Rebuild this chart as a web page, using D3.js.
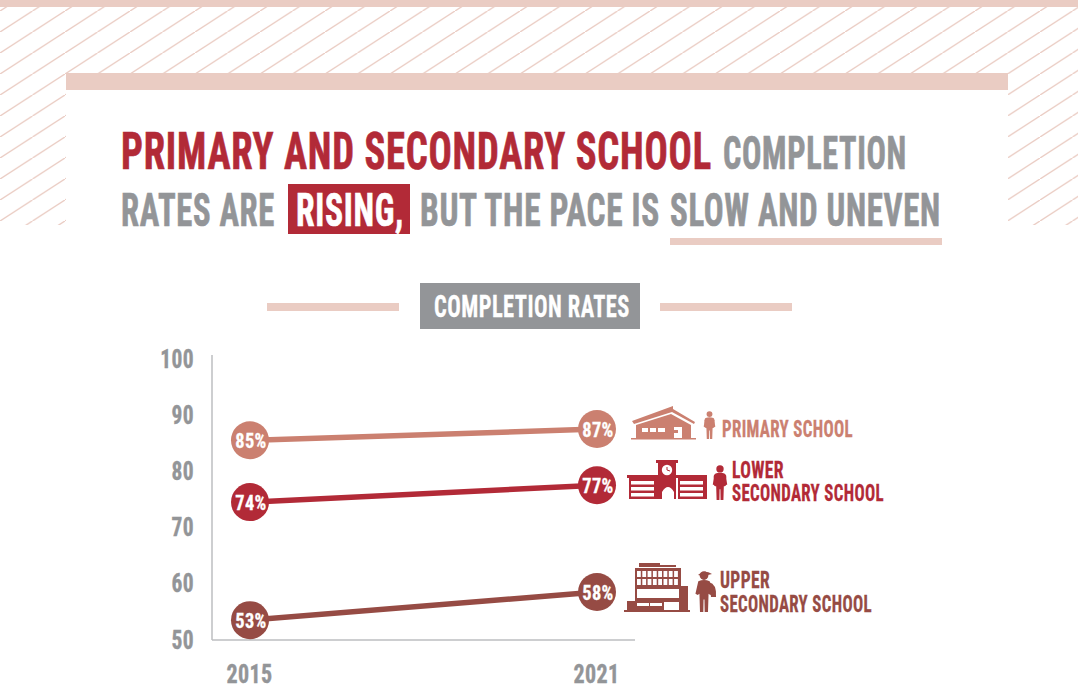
<!DOCTYPE html>
<html>
<head>
<meta charset="utf-8">
<script src="https://cdn.jsdelivr.net/npm/d3@7"></script>
<style>
  html, body { margin: 0; padding: 0; background: #fff; }
  svg { display: block; }
  text { font-family: "Roboto Condensed", Roboto, sans-serif; font-weight: 700; letter-spacing: 0.02em; }
</style>
</head>
<body>
<svg id="chart"></svg>
<script>
// chart data
var years = ["2015", "2021"];
var yTicks = [50, 60, 70, 80, 90, 100];
var primary = [85, 87];
var lowerSecondary = [74, 77];
var upperSecondary = [53, 58];

var red = "#b22a37", grey = "#939598", band = "#eaccc3",
  light = "#cb8070", dark = "#964b44", axisGrey = "#bcbec0";

var svg = d3.select("#chart").attr("width", 1078).attr("height", 700);
var defs = svg.append("defs");

// hatched background behind the title panel
var hatch = defs.append("pattern")
  .attr("id", "hatch")
  .attr("patternUnits", "userSpaceOnUse")
  .attr("width", 32.5)
  .attr("height", 21)
  .attr("patternTransform", "translate(0,11)");
hatch.append("path")
  .attr("d", "M-6.5,25.2 L39,-4.2")
  .attr("stroke", band)
  .attr("stroke-width", 1.4)
  .attr("fill", "none");

svg.append("rect").attr("x", 0).attr("y", 7).attr("width", 1078).attr("height", 218).attr("fill", "url(#hatch)");
svg.append("rect").attr("x", 0).attr("y", 0).attr("width", 1078).attr("height", 7).attr("fill", band);
svg.append("rect").attr("x", 66).attr("y", 73).attr("width", 942).attr("height", 240).attr("fill", "#fff");
svg.append("rect").attr("x", 66).attr("y", 73).attr("width", 942).attr("height", 17).attr("fill", band);

// squeezes a label to the width it has in the picture
function label(g, str, x, y, w, size, color) {
  var t = g.append("text")
    .attr("font-size", size)
    .attr("fill", color)
    .attr("stroke", color)
    .attr("stroke-width", size > 40 ? 0.7 : 0.3)
    .text(str);
  var sx = w / t.node().getComputedTextLength();
  t.attr("transform", "translate(" + x + "," + y + ") scale(" + sx + ",1)");
  return t;
}

// headline
var head = svg.append("g");
label(head, "PRIMARY AND SECONDARY SCHOOL", 121, 169, 591, 52, red);
label(head, "COMPLETION", 723, 169, 184, 47, grey);
label(head, "RATES ARE", 121, 226, 154, 47, grey);
head.append("rect").attr("x", 288).attr("y", 184).attr("width", 122).attr("height", 50).attr("fill", red);
label(head, "RISING,", 296, 226, 108, 47, "#fff");
label(head, "BUT THE PACE IS", 420, 226, 240, 47, grey);
label(head, "SLOW AND UNEVEN", 670, 226, 271, 47, grey);
head.append("rect").attr("x", 670).attr("y", 238).attr("width", 272).attr("height", 7).attr("fill", band);

// sub heading
svg.append("rect").attr("x", 267).attr("y", 303).attr("width", 132).attr("height", 8).attr("fill", band);
svg.append("rect").attr("x", 660).attr("y", 303).attr("width", 132).attr("height", 8).attr("fill", band);
svg.append("rect").attr("x", 420).attr("y", 283).attr("width", 220).attr("height", 46).attr("fill", grey);
label(svg, "COMPLETION RATES", 434, 317, 196, 32, "#fff");

// scales
var x = d3.scalePoint().domain(years).range([250, 597]);
var y = d3.scaleLinear().domain([50, 100]).range([637, 356]);

// axes, the tick labels come from d3.axisLeft / d3.axisBottom
var yAxis = svg.append("g")
  .attr("transform", "translate(212,0)")
  .call(d3.axisLeft(y).tickValues(yTicks).tickSize(0));
yAxis.select(".domain").remove();
yAxis.selectAll("text")
  .attr("x", 0)
  .attr("dy", 0)
  .attr("font-size", 25)
  .attr("fill", grey)
  .attr("stroke", grey)
  .attr("stroke-width", 0.4)
  .attr("transform", "translate(-18,11) scale(0.86,1)");

svg.append("line").attr("x1", 212).attr("x2", 212).attr("y1", 355).attr("y2", 640)
  .attr("stroke", axisGrey).attr("stroke-width", 1.5);
svg.append("line").attr("x1", 212).attr("x2", 635).attr("y1", 640).attr("y2", 640)
  .attr("stroke", axisGrey).attr("stroke-width", 1.5);

var xAxis = svg.append("g")
  .attr("transform", "translate(0,640)")
  .call(d3.axisBottom(x).tickSize(0));
xAxis.select(".domain").remove();
xAxis.selectAll("text")
  .attr("y", 0)
  .attr("dy", 0)
  .attr("font-size", 25)
  .attr("fill", grey)
  .attr("stroke", grey)
  .attr("stroke-width", 0.4)
  .attr("transform", "translate(-1,43) scale(0.88,1)");

// lines and dots
var lineGen = d3.line().x(function (d, i) { return x(years[i]); }).y(function (d) { return y(d); });

function drawSeries(values, color) {
  var g = svg.append("g");
  g.append("path")
    .attr("d", lineGen(values))
    .attr("fill", "none")
    .attr("stroke", color)
    .attr("stroke-width", 5.5);
  var dots = g.selectAll("g.dot")
    .data(values)
    .enter()
    .append("g")
    .attr("class", "dot")
    .attr("transform", function (d, i) { return "translate(" + x(years[i]) + "," + y(d) + ")"; });
  dots.append("circle").attr("r", 19).attr("fill", color);
  dots.append("text")
    .attr("text-anchor", "middle")
    .attr("font-size", 20)
    .attr("fill", "#fff")
    .attr("stroke", "#fff")
    .attr("stroke-width", 0.3)
    .attr("transform", "translate(1,7.5) scale(0.92,1)")
    .text(function (d) { return d + "%"; });
}
drawSeries(primary, light);
drawSeries(lowerSecondary, red);
drawSeries(upperSecondary, dark);

// pictograms, small shapes in their own local coordinates
function person(g, px, py, s, color) {
  var p = g.append("g").attr("transform", "translate(" + px + "," + py + ") scale(" + s + ")").attr("fill", color);
  p.append("circle").attr("cx", 0).attr("cy", 4).attr("r", 3.8);
  p.append("path").attr("d", "M-5,9 Q0,7 5,9 L7.5,20 L5.5,21 L4,20 L3.5,36 L0.6,36 L0.4,25 L-0.4,25 L-0.6,36 L-3.5,36 L-4,20 L-5.5,21 L-7.5,20 Z");
}

// backpack straps seen from the front
function backpack(g, px, py, s, color) {
  g.append("rect")
    .attr("x", px - 6.5 * s).attr("y", py + 9 * s)
    .attr("width", 13 * s).attr("height", 13 * s)
    .attr("rx", 3 * s)
    .attr("fill", color);
}

function schoolPrimary(g, color) {
  var s = g.append("g").attr("fill", color);
  s.append("path").attr("d", "M632,421 L673,406 L673,409 L695,422 L694,424 L672,412 L634,424 Z");
  s.append("path").attr("d", "M636,425 L671,414 L691,425 L691,438 L636,438 Z");
  s.append("rect").attr("x", 631).attr("y", 438).attr("width", 65).attr("height", 1.5);
  s.append("rect").attr("x", 642).attr("y", 428).attr("width", 6).attr("height", 4).attr("fill", "#fff");
  s.append("rect").attr("x", 650).attr("y", 428).attr("width", 6).attr("height", 4).attr("fill", "#fff");
  s.append("rect").attr("x", 658).attr("y", 428).attr("width", 7).attr("height", 4).attr("fill", "#fff");
  s.append("path").attr("d", "M674,427 L682,427 L682,438 L674,438 L674,433 L678,433 L678,430 L674,430 Z").attr("fill", "#fff");
}

function schoolLower(g, color) {
  var s = g.append("g").attr("fill", color);
  s.append("rect").attr("x", 656).attr("y", 460).attr("width", 22).attr("height", 3);
  s.append("path").attr("d", "M658,463 L676,463 L676,499 L674,499 L674,492 Q668,482 662,492 L662,499 L658,499 Z");
  s.append("circle").attr("cx", 667).attr("cy", 470).attr("r", 5.2).attr("fill", "#fff");
  s.append("path").attr("d", "M667,467 L667,470 L670,471").attr("stroke", color).attr("fill", "none");
  [[627, 658], [676, 707]].forEach(function (r) {
    s.append("rect").attr("x", r[0]).attr("y", 475).attr("width", r[1] - r[0]).attr("height", 3);
    s.append("rect").attr("x", r[0] + 2).attr("y", 478).attr("width", r[1] - r[0] - 2).attr("height", 21);
    [481, 487, 493].forEach(function (wy) {
      s.append("rect").attr("x", r[0] + 4).attr("y", wy).attr("width", r[1] - r[0] - 8).attr("height", 3.5).attr("fill", "#fff");
    });
  });
}

function schoolUpper(g, color) {
  var s = g.append("g").attr("fill", color);
  s.append("rect").attr("x", 639).attr("y", 563).attr("width", 21).attr("height", 4);
  s.append("rect").attr("x", 660).attr("y", 565).attr("width", 16).attr("height", 2);
  s.append("rect").attr("x", 635).attr("y", 568).attr("width", 46).attr("height", 42);
  s.append("rect").attr("x", 681).attr("y", 586).attr("width", 7).attr("height", 24);
  s.append("rect").attr("x", 627).attr("y", 601).attr("width", 8).attr("height", 9);
  s.append("rect").attr("x", 624).attr("y", 610).attr("width", 66).attr("height", 2);
  s.append("rect").attr("x", 637).attr("y", 589).attr("width", 42).attr("height", 9).attr("fill", "#fff");
  s.append("rect").attr("x", 637).attr("y", 603).attr("width", 12).attr("height", 3).attr("fill", "#fff");
  s.append("rect").attr("x", 650).attr("y", 603).attr("width", 12).attr("height", 3).attr("fill", "#fff");
  s.append("rect").attr("x", 664).attr("y", 602).attr("width", 15).attr("height", 8).attr("fill", "#fff");
  [571, 579].forEach(function (wy) {
    d3.range(8).forEach(function (k) {
      s.append("rect").attr("x", 637 + k * 5.3).attr("y", wy).attr("width", 3.8).attr("height", 6).attr("fill", "#fff");
    });
  });
}

var legend = svg.append("g");
schoolPrimary(legend, light);
person(legend, 709.5, 411, 0.78, light);
backpack(legend, 709.5, 411, 0.78, light);
label(legend, "PRIMARY SCHOOL", 722, 437, 131, 23, light);

schoolLower(legend, red);
person(legend, 720, 465, 0.97, red);
backpack(legend, 720, 465, 0.97, red);
label(legend, "LOWER", 732, 478, 52, 23, red);
label(legend, "SECONDARY SCHOOL", 732, 501, 152, 23, red);

schoolUpper(legend, dark);
person(legend, 704, 571, 1.14, dark);
legend.append("path").attr("d", "M709,582 Q717,584 716,597 L711,597 Z").attr("fill", dark);
legend.append("path").attr("d", "M698,575 Q704,569 712,574 L704,576 Z").attr("fill", dark);
label(legend, "UPPER", 720, 588, 50, 23, dark);
label(legend, "SECONDARY SCHOOL", 720, 612, 152, 23, dark);
</script>
</body>
</html>
